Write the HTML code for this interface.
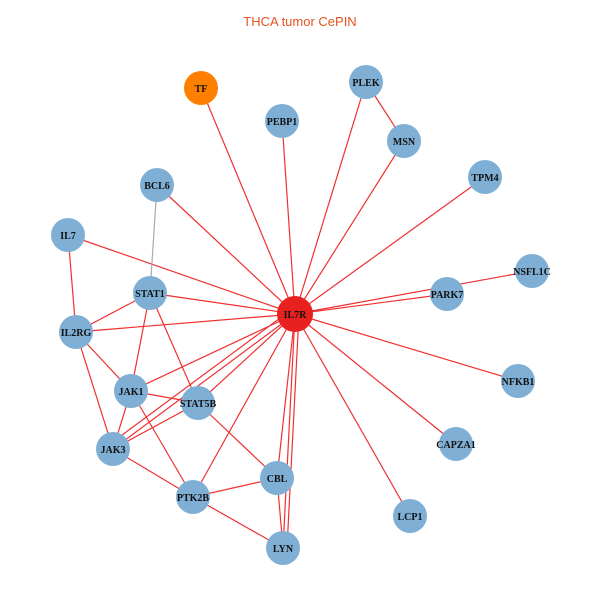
<!DOCTYPE html>
<html><head><style>body{margin:0;background:#fff}</style></head><body>
<svg width="600" height="600" xmlns="http://www.w3.org/2000/svg">
<rect width="600" height="600" fill="#fff"/>
<text x="300" y="26" text-anchor="middle" font-family="Liberation Sans, sans-serif" font-size="13" fill="#e8521e">THCA tumor CePIN</text>
<g stroke="#f03030" stroke-width="1.2">
<line x1="295" y1="314" x2="201" y2="88"/>
<line x1="295" y1="314" x2="282" y2="121"/>
<line x1="295" y1="314" x2="366" y2="82"/>
<line x1="295" y1="314" x2="404" y2="141"/>
<line x1="295" y1="314" x2="485" y2="177"/>
<line x1="295" y1="314" x2="157" y2="185"/>
<line x1="295" y1="314" x2="68" y2="235"/>
<line x1="295" y1="314" x2="532" y2="271"/>
<line x1="295" y1="314" x2="447" y2="294"/>
<line x1="295" y1="314" x2="150" y2="293"/>
<line x1="295" y1="314" x2="76" y2="332"/>
<line x1="295" y1="314" x2="518" y2="381"/>
<line x1="295" y1="314" x2="131" y2="391"/>
<line x1="295" y1="314" x2="198" y2="403"/>
<line x1="295" y1="314" x2="456" y2="444"/>
<line x1="295" y1="314" x2="113" y2="449"/>
<line x1="291" y1="310" x2="110" y2="444"/>
<line x1="295" y1="314" x2="277" y2="478"/>
<line x1="295" y1="314" x2="193" y2="497"/>
<line x1="295" y1="314" x2="410" y2="516"/>
<line x1="295" y1="314" x2="283" y2="548"/>
<line x1="299" y1="314" x2="287" y2="548"/>
<line x1="366" y1="82" x2="404" y2="141"/>
<line x1="68" y1="235" x2="76" y2="332"/>
<line x1="76" y1="332" x2="150" y2="293"/>
<line x1="76" y1="332" x2="131" y2="391"/>
<line x1="76" y1="332" x2="113" y2="449"/>
<line x1="150" y1="293" x2="131" y2="391"/>
<line x1="150" y1="293" x2="198" y2="403"/>
<line x1="131" y1="391" x2="113" y2="449"/>
<line x1="131" y1="391" x2="198" y2="403"/>
<line x1="131" y1="391" x2="193" y2="497"/>
<line x1="113" y1="449" x2="198" y2="403"/>
<line x1="113" y1="449" x2="193" y2="497"/>
<line x1="198" y1="403" x2="277" y2="478"/>
<line x1="277" y1="478" x2="193" y2="497"/>
<line x1="277" y1="478" x2="283" y2="548"/>
<line x1="193" y1="497" x2="283" y2="548"/>
</g>
<line x1="157" y1="185" x2="150" y2="293" stroke="#aaa" stroke-width="1.2"/>
<g fill="#7fafd4">
<circle cx="366" cy="82" r="17"/><circle cx="282" cy="121" r="17"/><circle cx="404" cy="141" r="17"/>
<circle cx="485" cy="177" r="17"/><circle cx="157" cy="185" r="17"/><circle cx="68" cy="235" r="17"/>
<circle cx="532" cy="271" r="17"/><circle cx="150" cy="293" r="17"/><circle cx="447" cy="294" r="17"/>
<circle cx="76" cy="332" r="17"/><circle cx="518" cy="381" r="17"/><circle cx="131" cy="391" r="17"/>
<circle cx="198" cy="403" r="17"/><circle cx="456" cy="444" r="17"/><circle cx="113" cy="449" r="17"/>
<circle cx="277" cy="478" r="17"/><circle cx="193" cy="497" r="17"/><circle cx="410" cy="516" r="17"/>
<circle cx="283" cy="548" r="17"/>
</g>
<circle cx="201" cy="88" r="17" fill="#ff8000"/>
<circle cx="295" cy="314" r="18" fill="#e82020"/>
<g font-family="Liberation Serif, serif" font-weight="bold" font-size="10" text-anchor="middle" fill="#111">
<text x="201" y="92">TF</text><text x="366" y="86">PLEK</text><text x="282" y="125">PEBP1</text>
<text x="404" y="145">MSN</text><text x="485" y="181">TPM4</text><text x="157" y="189">BCL6</text>
<text x="68" y="239">IL7</text><text x="532" y="275">NSFL1C</text><text x="150" y="297">STAT1</text>
<text x="447" y="298">PARK7</text><text x="295" y="318">IL7R</text><text x="76" y="336">IL2RG</text>
<text x="518" y="385">NFKB1</text><text x="131" y="395">JAK1</text><text x="198" y="407">STAT5B</text>
<text x="456" y="448">CAPZA1</text><text x="113" y="453">JAK3</text><text x="277" y="482">CBL</text>
<text x="193" y="501">PTK2B</text><text x="410" y="520">LCP1</text><text x="283" y="552">LYN</text>
</g>
</svg>
</body></html>
